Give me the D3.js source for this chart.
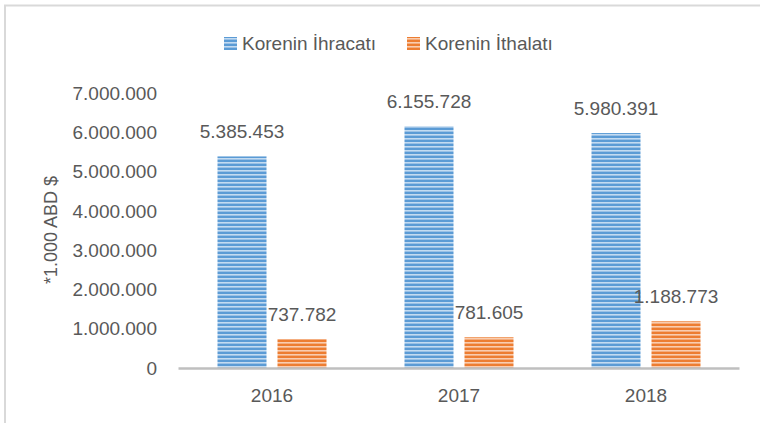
<!DOCTYPE html>
<html>
<head>
<meta charset="utf-8">
<script src="https://cdn.jsdelivr.net/npm/d3@7"></script>
<style>
  body { margin: 0; background: #fff; }
  text { font-family: "Liberation Sans", Arial, sans-serif; fill: #595959; }
</style>
</head>
<body>
<script>
// data
const years = ["2016", "2017", "2018"];
const seriesNames = ["Korenin İhracatı", "Korenin İthalatı"];
const exports_ = [5385453, 6155728, 5980391];
const imports_ = [737782, 781605, 1188773];
const yTicks = [0, 1000000, 2000000, 3000000, 4000000, 5000000, 6000000, 7000000];

const width = 760, height = 423;
const colors = [
  { base: "#5b9bd5", light: "#c3dbf1" },
  { base: "#ed7d31", light: "#f9cdb0" }
];

const svg = d3.select("body").append("svg")
  .attr("width", width)
  .attr("height", height);

// stripe patterns
const defs = svg.append("defs");
colors.forEach((c, i) => {
  const p = defs.append("pattern")
    .attr("id", "stripe" + i)
    .attr("patternUnits", "userSpaceOnUse")
    .attr("width", 8)
    .attr("height", 4);
  p.append("rect").attr("width", 8).attr("height", 4).attr("fill", c.base);
  p.append("rect").attr("y", 2).attr("width", 8).attr("height", 1.6).attr("fill", c.light);
});

// chart border (open on the right / bottom like the crop)
svg.append("path")
  .attr("d", "M5,423 V5.5 H760")
  .attr("fill", "none")
  .attr("stroke", "#d9d9d9")
  .attr("stroke-width", 2);

// scales
const x = d3.scaleBand().domain(years).range([178.5, 739.5]);
const y = d3.scaleLinear().domain([0, 7000000]).range([368, 93]);
const barW = 49, gap = 11;
const fmt = (v) => d3.format(",")(v).replace(/,/g, ".");

// y labels
svg.append("g")
  .selectAll("text")
  .data(yTicks)
  .enter()
  .append("text")
  .attr("x", 157)
  .attr("y", (d) => y(d))
  .attr("dy", "0.35em")
  .attr("text-anchor", "end")
  .style("font-size", "19px")
  .text(fmt);

// y title
svg.append("text")
  .attr("transform", "translate(57,230) rotate(-90)")
  .attr("text-anchor", "middle")
  .style("font-size", "18px")
  .text("*1.000 ABD $");

// bars
const rows = years.map((yr, i) => ({ year: yr, vals: [exports_[i], imports_[i]] }));
rows.forEach((r) => {
  const cx = x(r.year) + x.bandwidth() / 2;
  r.vals.forEach((v, s) => {
    const bx = s === 0 ? cx - gap / 2 - barW : cx + gap / 2;
    svg.append("rect")
      .attr("x", bx)
      .attr("y", y(v))
      .attr("width", barW)
      .attr("height", y(0) - y(v))
      .attr("fill", `url(#stripe${s})`);
    svg.append("text")
      .attr("x", bx + barW / 2)
      .attr("y", y(v) - 18)
      .attr("text-anchor", "middle")
      .style("font-size", "19px")
      .text(fmt(v));
  });
});

// x axis line
svg.append("line")
  .attr("x1", 178.5).attr("x2", 739.5)
  .attr("y1", 368.5).attr("y2", 368.5)
  .attr("stroke", "#bfbfbf")
  .attr("stroke-width", 2.5);

// x labels
svg.append("g")
  .selectAll("text")
  .data(years)
  .enter()
  .append("text")
  .attr("x", (d) => x(d) + x.bandwidth() / 2)
  .attr("y", 402)
  .attr("text-anchor", "middle")
  .style("font-size", "19px")
  .text((d) => d);

// legend
const legendX = [224, 407];
const legend = svg.append("g");
seriesNames.forEach((name, i) => {
  legend.append("rect")
    .attr("x", legendX[i])
    .attr("y", 37)
    .attr("width", 13)
    .attr("height", 13)
    .attr("fill", `url(#stripe${i})`);
  legend.append("text")
    .attr("x", legendX[i] + 18)
    .attr("y", 43.5)
    .attr("dy", "0.35em")
    .style("font-size", "19px")
    .text(name);
});
</script>
</body>
</html>
